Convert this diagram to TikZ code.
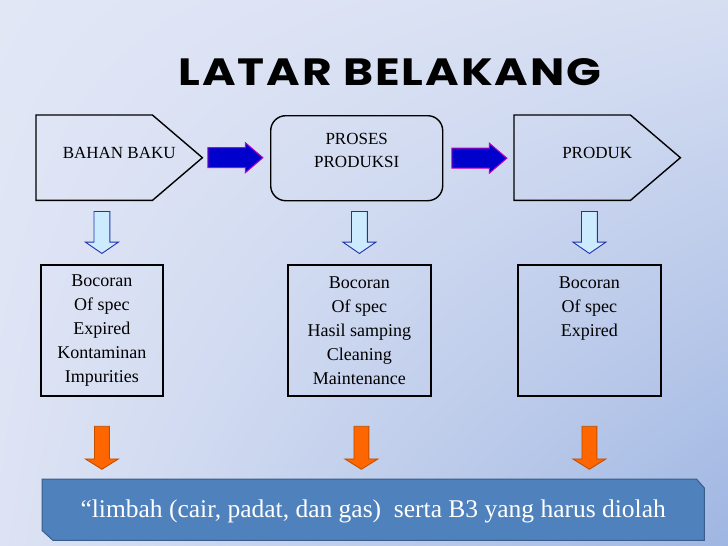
\documentclass[tikz,border=0pt]{standalone}
\usepackage{fontspec}
\setmainfont{Liberation Serif}
\newfontfamily\titlefont[FakeStretch=1.2,LetterSpace=5]{Poppins}
\usetikzlibrary{positioning,calc,shapes.arrows,shadings}
\definecolor{bgtl}{HTML}{E2E7F6}
\definecolor{bgtr}{HTML}{D6DEF2}
\definecolor{bgbl}{HTML}{DDE3F4}
\definecolor{bgbr}{HTML}{9FB6E2}
\definecolor{pushblue}{HTML}{0000CC}
\definecolor{pushrim}{HTML}{C000C0}
\definecolor{leakfill}{HTML}{CCEBFF}
\definecolor{leakrim}{HTML}{2233AA}
\definecolor{dropfill}{HTML}{FF6600}
\definecolor{droprim}{HTML}{C04F00}
\definecolor{band}{HTML}{4F81BD}
\definecolor{bandrim}{HTML}{385D8A}

\begin{document}
\begin{tikzpicture}[
 x=1pt,y=-1pt,
 stage/.style={minimum width=166pt,minimum height=85pt,inner sep=0pt,anchor=north west,align=center,text depth=9pt,font=\fontsize{17}{23}\selectfont},
 edge/.style={draw=black,line width=1.4pt,line join=miter},
 list/.style={draw=black,line width=1.8pt,minimum height=131pt,inner sep=0pt,anchor=north west,align=center,font=\fontsize{18}{24}\selectfont},
 push/.style={single arrow,draw=pushrim,fill=pushblue,line width=1pt,inner sep=0pt,text width=19pt,text height=19pt,minimum height=55pt,single arrow head extend=5pt,single arrow tip angle=81,single arrow head indent=0pt,anchor=tail},
 leak/.style={single arrow,shape border rotate=270,draw=leakrim,fill=leakfill,line width=.9pt,inner sep=0pt,text width=15pt,text height=15pt,minimum height=42pt,single arrow head extend=8.5pt,single arrow tip angle=111,anchor=tip},
 drop/.style={single arrow,shape border rotate=270,draw=droprim,fill=dropfill,line width=.9pt,inner sep=0pt,text width=14pt,text height=14pt,minimum height=43pt,single arrow head extend=9pt,single arrow tip angle=116,anchor=tail}
]
\useasboundingbox (0,0) rectangle (728,546);
\shade[upper left=bgtl,upper right=bgtr,lower left=bgbl,lower right=bgbr] (0,0) rectangle (728,546);

\node[font=\titlefont\bfseries\fontsize{38}{44}\selectfont] (title) at (390,72) {LATAR BELAKANG};

\node[stage] (raw) at (36,115) {BAHAN BAKU};
\node[stage,minimum width=172pt,text depth=16pt,draw=black,line width=1.4pt,rounded corners=15pt] (proc) at (270,115) {PROSES\\PRODUKSI};
\node[stage] (prod) at (514,115) {PRODUK};
\draw[edge] (raw.north west) -- ([xshift=-50pt]raw.north east) -- (raw.east) -- ([xshift=-50pt]raw.south east) -- (raw.south west) -- cycle;
\draw[edge] (prod.north west) -- ([xshift=-50pt]prod.north east) -- (prod.east) -- ([xshift=-50pt]prod.south east) -- (prod.south west) -- cycle;
\node[push] (p1) at ([xshift=5pt]raw.east) {};
\node[push] (p2) at ([xshift=8pt]proc.east) {};

\node[list,minimum width=122pt] (low1) at (40,264) {Bocoran\\Of spec\\Expired\\Kontaminan\\Impurities};
\node[list,minimum width=143pt] (low2) at (287,264) {Bocoran\\Of spec\\Hasil samping\\Cleaning\\Maintenance};
\node[list,minimum width=143pt] (low3) at (517,264) {Bocoran\\Of spec\\Expired\\\mbox{}\\\mbox{}};
\node[leak] (d1) at ([yshift=10pt]low1.north) {};
\node[leak] (d2) at ([yshift=10pt]low2.north) {};
\node[leak] (d3) at ([yshift=10pt]low3.north) {};
\node[drop] (o1) at ([yshift=-29pt]low1.south) {};
\node[drop] (o2) at ([xshift=2pt,yshift=-29pt]low2.south) {};
\node[drop] (o3) at ([yshift=-29pt]low3.south) {};

\node[minimum width=662pt,minimum height=61pt,inner sep=0pt,anchor=north west] (waste) at (42,479) {};
\filldraw[fill=band,draw=bandrim,line width=1pt] (waste.north west) -- ([xshift=-8pt]waste.north east) -- ([yshift=-9pt]waste.north east) -- (waste.south east) -- ([xshift=11pt]waste.south west) -- ([yshift=10pt]waste.south west) -- cycle;
\node[text=white,font=\fontsize{25.5}{30}\selectfont] (wastetext) at ([yshift=-2pt]waste.center) {``limbah (cair, padat, dan gas)\ \ serta B3 yang harus diolah};
\end{tikzpicture}
\end{document}
